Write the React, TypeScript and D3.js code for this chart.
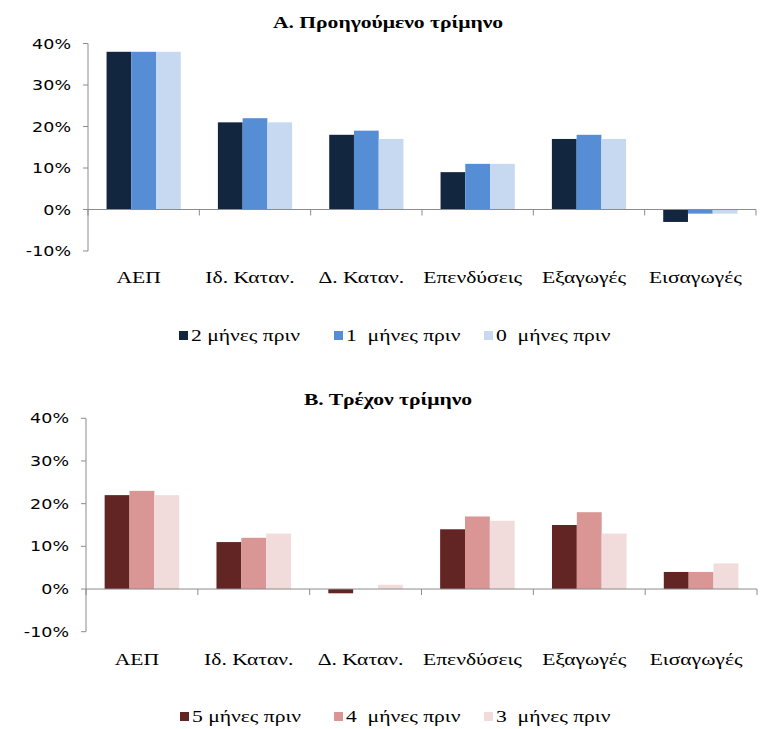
import React from 'react';
import * as d3 from 'd3';

const categories = ['ΑΕΠ', 'Ιδ. Καταν.', 'Δ. Καταν.', 'Επενδύσεις', 'Εξαγωγές', 'Εισαγωγές'];
const yTicks = [-10, 0, 10, 20, 30, 40];

const prevTitle = 'Α. Προηγούμενο τρίμηνο';
const prevNames = ['2 μήνες πριν', '1  μήνες πριν', '0  μήνες πριν'];
const prev2m = [38, 21, 18, 9, 17, -3];
const prev1m = [38, 22, 19, 11, 18, -1];
const prev0m = [38, 21, 17, 11, 17, -1];

const currTitle = 'Β. Τρέχον τρίμηνο';
const currNames = ['5 μήνες πριν', '4  μήνες πριν', '3  μήνες πριν'];
const curr5m = [22, 11, -1, 14, 15, 4];
const curr4m = [23, 12, 0, 17, 18, 4];
const curr3m = [22, 13, 1, 16, 13, 6];

const blueColors = ['#13263f', '#558ed5', '#c6d9f1'];
const redColors = ['#632523', '#d99694', '#f2dcdb'];

const SX = 1.27; // horizontal stretch of text
const AXIS = '#8c8c8c';
const SERIF = 'Liberation Serif';
const SANS = 'DejaVu Sans';

type PanelProps = {
  title: string;
  titleX: number;
  titleY: number;
  x0: number;
  x1: number;
  yTop: number;
  yBot: number;
  labelY: number;
  legendY: number;
  legendX: number[];
  names: string[];
  series: number[][];
  colors: string[];
};

function Panel(p: PanelProps) {
  const x = d3.scaleBand<string>().domain(categories).range([p.x0, p.x1]).paddingInner(0).paddingOuter(0);
  const bw = x.bandwidth();
  const gap = 1.5; // Excel gap width 150%
  const barW = bw / (p.series.length + gap);
  const inner = d3
    .scaleBand<number>()
    .domain(p.series.map((_, i) => i))
    .range([(gap * barW) / 2, (gap * barW) / 2 + barW * p.series.length]);
  const y = d3.scaleLinear().domain([-10, 40]).range([p.yBot, p.yTop]);
  const y0 = y(0);
  const bounds = [...categories.map((c) => x(c) as number), p.x1];
  const tx = (xx: number, yy: number, s = SX) => `translate(${xx},${yy}) scale(${s},1)`;
  return (
    <g>
      <text
        transform={tx(p.titleX, p.titleY)}
        textAnchor="middle"
        style={{ fontFamily: SERIF, fontWeight: 'bold', fontSize: '17px' }}
        fill="#000"
      >
        {p.title}
      </text>
      {p.series.map((vals, si) =>
        vals.map((v, ci) => {
          const bx = (x(categories[ci]) as number) + (inner(si) as number);
          const top = Math.min(y(v), y0);
          const h = Math.abs(y(v) - y0);
          return <rect key={`${si}-${ci}`} x={bx} y={top} width={barW} height={h} fill={p.colors[si]} />;
        })
      )}
      <line x1={p.x0} x2={p.x0} y1={y(40)} y2={y(-10)} stroke={AXIS} strokeWidth={1} />
      {yTicks.map((t) => (
        <g key={t}>
          <line x1={p.x0 - 5} x2={p.x0} y1={y(t)} y2={y(t)} stroke={AXIS} />
          <text
            transform={tx(p.x0 - 17, y(t) + 5, 1.25)}
            textAnchor="end"
            style={{ fontFamily: SANS, fontSize: '14px' }}
            fill="#000"
          >
            {t}%
          </text>
        </g>
      ))}
      <line x1={p.x0} x2={p.x1} y1={y0} y2={y0} stroke={AXIS} strokeWidth={1} />
      {bounds.map((b, i) => (
        <line key={i} x1={b} x2={b} y1={y0} y2={y0 + 6} stroke={AXIS} />
      ))}
      {categories.map((c) => (
        <text
          key={c}
          transform={tx((x(c) as number) + bw / 2 - 5, p.labelY)}
          textAnchor="middle"
          style={{ fontFamily: SERIF, fontSize: '17px' }}
          fill="#000"
        >
          {c}
        </text>
      ))}
      {p.names.map((n, i) => (
        <g key={n}>
          <rect x={p.legendX[i]} y={p.legendY - 10} width={9} height={9} fill={p.colors[i]} />
          <text
            transform={tx(p.legendX[i] + 12, p.legendY)}
            style={{ fontFamily: SERIF, fontSize: '17px', whiteSpace: 'pre' }}
            fill="#000"
          >
            {n}
          </text>
        </g>
      ))}
    </g>
  );
}

export default function App() {
  return (
    <svg
      width={763}
      height={729}
      style={{ position: 'absolute', left: 0, top: 0, background: '#fff' }}
    >
      <rect width={763} height={729} fill="#fff" />
      <Panel
        title={prevTitle}
        titleX={388}
        titleY={28}
        x0={88}
        x1={756}
        yTop={43.5}
        yBot={251}
        labelY={283}
        legendY={341}
        legendX={[179, 334, 484]}
        names={prevNames}
        series={[prev2m, prev1m, prev0m]}
        colors={blueColors}
      />
      <Panel
        title={currTitle}
        titleX={388}
        titleY={405}
        x0={86}
        x1={757}
        yTop={418.3}
        yBot={631.7}
        labelY={665}
        legendY={722}
        legendX={[180, 334, 484]}
        names={currNames}
        series={[curr5m, curr4m, curr3m]}
        colors={redColors}
      />
    </svg>
  );
}
